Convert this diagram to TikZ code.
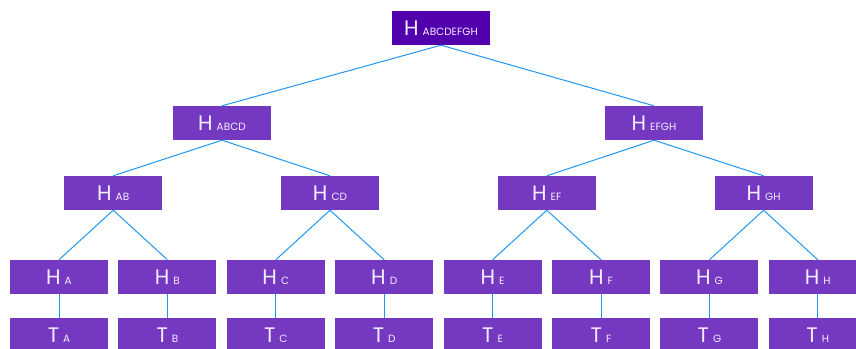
\documentclass[tikz,border=0pt]{standalone}
\usepackage{fontspec}
\setmainfont{Poppins}
\definecolor{boxc}{HTML}{7538C0}
\definecolor{rootc}{HTML}{5200AE}
\definecolor{linec}{HTML}{2196F0}
\definecolor{txtc}{HTML}{F4EEFF}
\tikzset{
  hbox/.style={fill=boxc, minimum width=98pt, minimum height=34pt, inner sep=0pt, text=txtc, font=\fontsize{21}{21}\selectfont},
  rootbox/.style={hbox, fill=rootc},
  link/.style={draw=linec, line width=1pt}
}
\newcommand{\hlab}[2]{#1\hspace{4pt}{\fontsize{10.5}{11}\selectfont #2}}
\begin{document}
\begin{tikzpicture}[x=1pt,y=-1pt]
\useasboundingbox (0,0) rectangle (856,348);
\clip (0,0) rectangle (856,348);
% level 4 and T
\foreach \l [count=\i from 0] in {A,B,C,D,E,F,G,H}{
  \pgfmathsetmacro{\cx}{59+108.4*\i}
  \node[hbox] (h\l) at (\cx,277) {\hlab{H}{\l}};
  \node[hbox] (t\l) at (\cx,335) {\hlab{T}{\l}};
  \draw[link] (h\l.south) -- (t\l.north);
}
\node[hbox] (hAB) at (113.2,193) {\hlab{H}{AB}};
\node[hbox] (hCD) at (330,193) {\hlab{H}{CD}};
\node[hbox] (hEF) at (546.8,193) {\hlab{H}{EF}};
\node[hbox] (hGH) at (763.6,193) {\hlab{H}{GH}};
\node[hbox] (hABCD) at (222,123) {\hlab{H}{ABCD}};
\node[hbox] (hEFGH) at (654,123) {\hlab{H}{EFGH}};
\node[rootbox] (root) at (441,28) {\hlab{H}{ABCDEFGH}};
\draw[link] (root.south) -- (hABCD.north);
\draw[link] (root.south) -- (hEFGH.north);
\draw[link] (hABCD.south) -- (hAB.north);
\draw[link] (hABCD.south) -- (hCD.north);
\draw[link] (hEFGH.south) -- (hEF.north);
\draw[link] (hEFGH.south) -- (hGH.north);
\draw[link] (hAB.south) -- (hA.north);
\draw[link] (hAB.south) -- (hB.north);
\draw[link] (hCD.south) -- (hC.north);
\draw[link] (hCD.south) -- (hD.north);
\draw[link] (hEF.south) -- (hE.north);
\draw[link] (hEF.south) -- (hF.north);
\draw[link] (hGH.south) -- (hG.north);
\draw[link] (hGH.south) -- (hH.north);
\end{tikzpicture}
\end{document}
